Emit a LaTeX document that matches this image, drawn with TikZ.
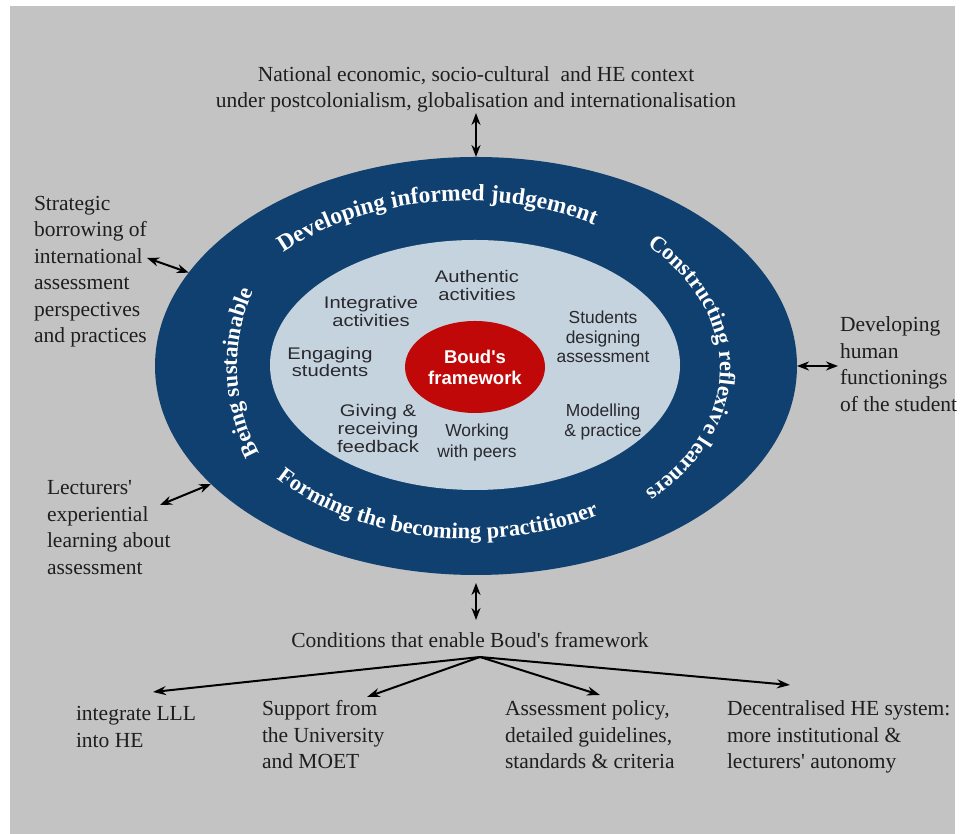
\documentclass[tikz,border=0pt]{standalone}
\usepackage{fontspec}
\setmainfont{Liberation Serif}
\newfontfamily\labA[FakeStretch=1.2]{Liberation Sans}
\newfontfamily\labB{Liberation Sans}
\usetikzlibrary{shapes.geometric,arrows.meta,decorations.text}
\definecolor{bggray}{RGB}{195,195,195}
\definecolor{ringblue}{RGB}{16,64,112}
\definecolor{innerlight}{RGB}{197,211,222}
\definecolor{boudred}{RGB}{192,8,8}
\definecolor{txtdark}{RGB}{30,30,30}
\definecolor{labdark}{RGB}{40,40,45}
\newcommand\ringstyle{\fontsize{22.5}{27}\selectfont\bfseries}
\newcommand\ringstylebig{\fontsize{23.5}{28}\selectfont\bfseries}
\newcommand\apos{\textquotesingle}
\begin{document}
\begin{tikzpicture}[x=1pt,y=1pt,
  serif/.style={font=\fontsize{21.5}{26.5}\selectfont, text=txtdark, inner sep=0pt, outer sep=0pt},
  labl/.style={font=\labA\fontsize{16.8}{#1}\selectfont, text=labdark, align=center, inner sep=0pt},
  labr/.style={font=\labB\fontsize{17.4}{#1}\selectfont, text=labdark, align=center, inner sep=0pt},
  dbl/.style={{Stealth[length=12pt,width=9pt]}-{Stealth[length=12pt,width=9pt]}, line width=2pt, black},
  sgl/.style={-{Stealth[length=13pt,width=9pt]}, line width=2pt, black},
  oval/.style={ellipse, inner sep=0pt, outer sep=0pt, draw=none},
]
\useasboundingbox (0,0) rectangle (961,834);
\fill[bggray] (10,0) rectangle (955,828);

% ellipses
\node[oval, fill=ringblue, minimum width=642pt, minimum height=418pt] (outer) at (476,468) {};
\node[oval, fill=innerlight, minimum width=410pt, minimum height=250pt] (inner) at (475,469) {};
\node[oval, fill=boudred, minimum width=140pt, minimum height=92pt, text=white, align=center,
      font=\labB\bfseries\fontsize{18.5}{21}\selectfont] (boud) at (475,467) {Boud\apos s\\framework};

% ring texts
\path[decorate, decoration={text along path, text align=left, text color=white,
   text={|\ringstylebig|Developing informed judgement}}]
   (283.6,581.6) arc[start angle=136.5, end angle=30, x radius=250pt, y radius=165pt];
\path[decorate, decoration={text along path, text align=left, text color=white,
   text={|\ringstyle|Constructing reflexive learners}}]
   (647.0,588.7) arc[start angle=45.5, end angle=-80, x radius=244pt, y radius=172pt];
\path[decorate, decoration={text along path, text align=left, text color=white,
   text={|\ringstyle|Forming the becoming practitioner}}]
   (276.9,355.7) arc[start angle=220.5, end angle=330, x radius=254pt, y radius=173pt];
\path[decorate, decoration={text along path, text align=left, text color=white,
   text={|\ringstyle|Being sustainable}}]
   (259.4,380.9) arc[start angle=205, end angle=120, x radius=239pt, y radius=206pt];

% inner labels
\node[labl=18] (auth) at (477,548) {Authentic\\activities};
\node[labl=18] (integ) at (371,522) {Integrative\\activities};
\node[labl=15.5] (engag) at (330,472) {Engaging\\students};
\node[labl=18] (giving) at (378,405) {Giving \&\\receiving\\feedback};
\node[labr=21] (peers) at (477,391) {Working\\with peers};
\node[labr=19.5] (design) at (603,497) {Students\\designing\\assessment};
\node[labr=20] (model) at (603,412) {Modelling\\\& practice};

% outer texts (anchor base = baseline of the last line)
\node[serif, align=center, anchor=base] (national) at (476,726)
  {National economic, socio-cultural\ \ and HE context\\under postcolonialism, globalisation and internationalisation};
\node[serif, align=left, anchor=base west] (strategic) at (34,491)
  {Strategic\\borrowing of\\international\\assessment\\perspectives\\and practices};
\node[serif, align=left, anchor=base west] (human) at (840,422.5)
  {Developing\\human\\functionings\\of the student};
\node[serif, align=left, anchor=base west] (lect) at (47,259.5)
  {Lecturers\apos\\experiential\\learning about\\assessment};
\node[serif, anchor=base] (cond) at (470,186) {Conditions that enable Boud\apos s framework};
\node[serif, align=left, anchor=base west] (lll) at (76,86.5) {integrate LLL\\into HE};
\node[serif, align=left, anchor=base west] (support) at (262,65) {Support from\\the University\\and MOET};
\node[serif, align=left, anchor=base west] (policy) at (505,65) {Assessment policy,\\detailed guidelines,\\standards \& criteria};
\node[serif, align=left, anchor=base west] (decent) at (727,65) {Decentralised HE system:\\more institutional \&\\lecturers\apos\ autonomy};

% arrows
\coordinate (natA) at (476,721);
\draw[dbl] (natA) -- (outer.north);
\coordinate (stratA) at (147,576);
\draw[dbl] (stratA) -- (outer.162.6);
\coordinate (humA) at (838,468);
\draw[dbl] (outer.east) -- (humA);
\coordinate (lectA) at (160,329);
\draw[dbl] (lectA) -- (outer.204);
\coordinate (ringBot) at (476,251);
\coordinate (condTop) at (476,214);
\draw[dbl] (ringBot) -- (condTop);

\coordinate (fan) at (480,177);
\coordinate (fanA) at (153,142);
\coordinate (fanB) at (367,137);
\coordinate (fanC) at (600,139);
\coordinate (fanD) at (790,149);
\draw[sgl] (fan) -- (fanA);
\draw[sgl] (fan) -- (fanB);
\draw[sgl] (fan) -- (fanC);
\draw[sgl] (fan) -- (fanD);
\end{tikzpicture}
\end{document}
